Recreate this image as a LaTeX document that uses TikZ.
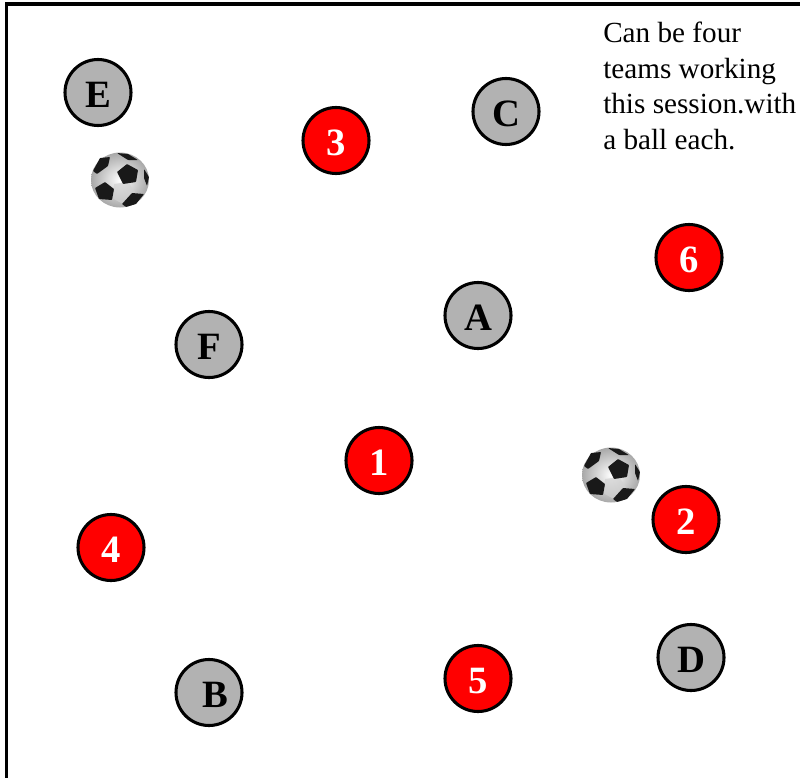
\documentclass[tikz,border=0pt]{standalone}
\usepackage{fontspec}
\setmainfont{Liberation Serif}
\usetikzlibrary{calc}
\definecolor{playergrey}{RGB}{178,178,178}
\tikzset{
  x=0.75pt,y=-0.75pt,
  disc/.style={circle,draw=black,line width=2.3pt,minimum size=49.5pt,inner sep=0pt,text height=22.2pt,text depth=0pt,font=\fontsize{29}{29}\selectfont\bfseries},
  grey/.style={disc,fill=playergrey,text=black},
  red/.style={disc,fill=red,text=white},
  note/.style={anchor=north west,align=left,inner sep=0pt,font=\fontsize{21.9}{26.6}\selectfont},
  patch/.style={fill=black!90,draw=none,rounded corners=0.5pt},
  pics/ball/.style={code={
    \shade[inner color=white,middle color=black!6,outer color=black!34] (0,0) ellipse [x radius=29,y radius=27.5];
    \fill[black!18,opacity=.7] (-6,4) -- (8,2) -- (15,12) -- (3,24) -- (-8,18) -- cycle;
    \fill[patch] (-3,-8) -- (7,-16) -- (18,-10) -- (16,2) -- (3,4) -- cycle;
    \fill[patch] (-27,-9) -- (-20,-22) -- (-10,-23) -- (-12,-14) -- (-23,-6) -- cycle;
    \fill[patch] (-25,8) -- (-15,2) -- (-6,9) -- (-8,20) -- (-21,19) -- cycle;
    \fill[patch] (2,24) -- (12,13) -- (24,14) -- (16,24) -- (6,27) -- cycle;
    \fill[patch] (-3,-27) -- (8,-26) -- (18,-20) -- (8,-20) -- cycle;
    \fill[patch] (24,-11) -- (29,-3) -- (27,6) -- (24,-2) -- cycle;
  }}
}
\begin{document}
\begin{tikzpicture}
\useasboundingbox (0,0) rectangle (800,778);
\coordinate (bl) at (6.5,778);
\coordinate (tl) at (6.5,4);
\coordinate (tr) at (800,4);
\draw[line width=2.3pt,line join=miter] (bl) -- (tl) -- (tr);
\node[grey] (E) at (98,92.5) {E};
\node[grey] (C) at (506,111.5) {C};
\node[grey] (A) at (478,315.5) {A};
\node[grey] (F) at (209,344.5) {F};
\node[grey] (D) at (691,657.5) {D};
\node[grey] (B) at (209,692.5) {\hspace{9pt}B};
\node[red] (n3) at (336,140.5) {3};
\node[red] (n6) at (689,257.5) {6};
\node[red] (n1) at (379,460.5) {1};
\node[red] (n2) at (686,519.5) {2};
\node[red] (n4) at (111,547.5) {4};
\node[red] (n5) at (478,678.5) {5};
\node[note] (txt) at (603,22) {Can be four\\teams working\\this session.with\\a ball each.};
\pic at (120,180) {ball};
\pic at (611,475) {ball};
\end{tikzpicture}
\end{document}
